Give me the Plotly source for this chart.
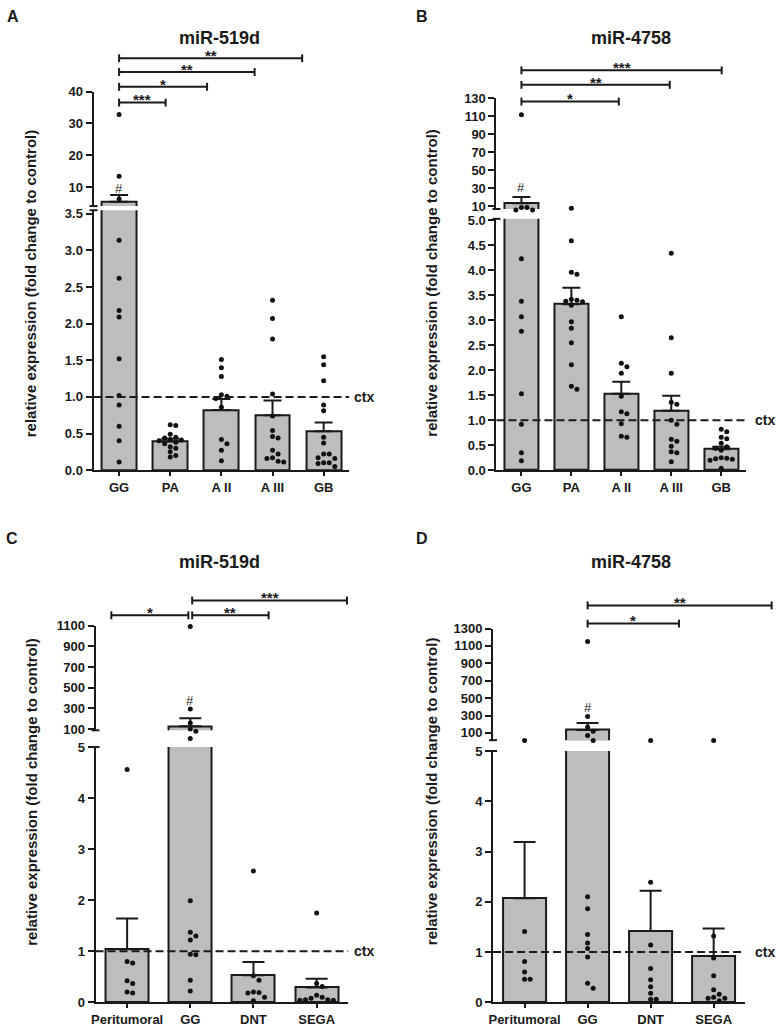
import plotly.graph_objects as go

W, H = 777, 1029

# ---------------- data ----------------
groups_ab = ["GG", "PA", "A II", "A III", "GB"]
groups_cd = ["Peritumoral", "GG", "DNT", "SEGA"]

# Panel A: miR-519d
a_mean = [5.3, 0.39, 0.82, 0.75, 0.53]
a_sem = [2.2, 0.04, 0.15, 0.20, 0.12]
a_pts_gg = [32.8, 13.4, 6.2, 3.14, 2.62, 2.18, 2.09, 1.52, 1.02, 0.89, 0.60, 0.40, 0.11]
a_pts_pa = [0.62, 0.61, 0.49, 0.45, 0.44, 0.42, 0.41, 0.40, 0.38, 0.36, 0.32, 0.30, 0.25, 0.20, 0.18]
a_pts_a2 = [1.51, 1.40, 1.28, 1.03, 1.01, 0.98, 0.86, 0.42, 0.36, 0.27, 0.13]
a_pts_a3 = [2.32, 2.07, 1.79, 1.04, 0.74, 0.54, 0.46, 0.44, 0.27, 0.22, 0.17, 0.16, 0.12, 0.11]
a_pts_gb = [1.55, 1.44, 1.22, 0.89, 0.81, 0.45, 0.37, 0.22, 0.22, 0.17, 0.16, 0.10, 0.10, 0.09, 0.05]
a_sig = ["***", "*", "**", "**"]
a_low_ticks = [0.0, 0.5, 1.0, 1.5, 2.0, 2.5, 3.0, 3.5]
a_up_ticks = [10, 20, 30, 40]

# Panel B: miR-4758
b_mean = [13.6, 3.32, 1.53, 1.19, 0.42]
b_sem = [6.9, 0.33, 0.24, 0.30, 0.05]
b_pts_gg = [111.5, 8.9, 8.9, 6.0, 6.0, 4.23, 3.38, 3.07, 2.78, 1.53, 0.92, 0.35, 0.19]
b_pts_pa = [7.8, 4.59, 3.96, 3.92, 3.42, 3.40, 3.38, 3.37, 3.30, 2.97, 2.84, 2.55, 2.11, 1.68, 1.62]
b_pts_a2 = [3.07, 2.14, 2.07, 1.94, 1.48, 1.17, 1.13, 0.93, 0.68, 0.66]
b_pts_a3 = [4.34, 2.65, 1.94, 1.36, 1.32, 1.00, 0.92, 0.62, 0.58, 0.48, 0.37, 0.35, 0.17]
b_pts_gb = [0.82, 0.77, 0.66, 0.63, 0.54, 0.47, 0.44, 0.40, 0.25, 0.24, 0.23, 0.22, 0.20, 0.04]
b_sig = ["*", "**", "***"]
b_low_ticks = [0.0, 0.5, 1.0, 1.5, 2.0, 2.5, 3.0, 3.5, 4.0, 4.5, 5.0]
b_up_ticks = [10, 30, 50, 70, 90, 110, 130]

# Panel C: miR-519d
c_mean = [1.04, 126, 0.53, 0.29]
c_sem = [0.60, 79, 0.26, 0.17]
c_pts_peri = [4.56, 0.80, 0.77, 0.42, 0.37, 0.20, 0.18]
c_pts_gg = [1090, 294, 157, 100, 78, 8, 1.99, 1.37, 1.30, 1.22, 0.94, 0.93, 0.43, 0.22]
c_pts_dnt = [2.57, 0.52, 0.43, 0.20, 0.19, 0.18, 0.10, 0.03]
c_pts_sega = [1.75, 0.37, 0.31, 0.14, 0.10, 0.08, 0.05, 0.05, 0.04, 0.04]
c_sig = ["*", "**", "***"]
c_low_ticks = [0, 1, 2, 3, 4, 5]
c_up_ticks = [100, 300, 500, 700, 900, 1100]

# Panel D: miR-4758
d_mean = [2.07, 135, 1.42, 0.92]
d_sem = [1.12, 78, 0.80, 0.55]
d_pts_peri = [14, 1.41, 0.81, 0.60, 0.46, 0.46]
d_pts_gg = [1150, 289, 168, 119, 71, 14, 2.10, 1.86, 1.35, 1.18, 1.07, 0.90, 0.38, 0.28]
d_pts_dnt = [14, 2.39, 1.14, 0.67, 0.45, 0.31, 0.18, 0.06, 0.06]
d_pts_sega = [14, 1.32, 0.88, 0.53, 0.25, 0.16, 0.08, 0.08, 0.10, 0.03]
d_sig = ["*", "**"]
d_low_ticks = [0, 1, 2, 3, 4, 5]
d_up_ticks = [100, 300, 500, 700, 900, 1100, 1300]

YTITLE = "relative expression (fold change to control)"

# ---------------- layout (pixel geometry) ----------------
FONT = "Liberation Sans, Arial, sans-serif"
INK = "#1a1a1a"
BAR_FILL = "#bdbdbd"

panels = [
    dict(letter="A", title="miR-519d", cats=groups_ab, mean=a_mean, sem=a_sem,
         pts=[a_pts_gg, a_pts_pa, a_pts_a2, a_pts_a3, a_pts_gb], sig=a_sig, gg=0,
         xpx=(90, 347), xr=(-0.5, 4.5),
         low_px=(470, 206.2), low_r=(0, 3.55), low_ticks=a_low_ticks, low_fmt="{:.1f}",
         up_px=(202, 86), up_r=(3.98, 40), up_ticks=a_up_ticks,
         brk=[(0, 0.91, 97), (0, 1.72, 81), (0, 2.65, 66), (0, 3.58, 52)],
         cap=9, hash_y=184, title_xy=(216.7, 31.5), letter_xy=(8.8, 10),
         ytitle_xy=(27.5, 280), ctx_x=350),
    dict(letter="B", title="miR-4758", cats=groups_ab, mean=b_mean, sem=b_sem,
         pts=[b_pts_gg, b_pts_pa, b_pts_a2, b_pts_a3, b_pts_gb], sig=b_sig, gg=0,
         xpx=(495, 746), xr=(-0.5, 4.5),
         low_px=(470, 215), low_r=(0, 5.03), low_ticks=b_low_ticks, low_fmt="{:.1f}",
         up_px=(205, 92.3), up_r=(7.1, 130), up_ticks=b_up_ticks,
         brk=[(0, 1.95, 96), (0, 2.97, 79), (0, 4.01, 64.3)],
         cap=9, hash_y=183.3, title_xy=(630, 31.5), letter_xy=(420, 9.5),
         ytitle_xy=(430, 280), ctx_x=753),
    dict(letter="C", title="miR-519d", cats=groups_cd, mean=c_mean, sem=c_sem,
         pts=[c_pts_peri, c_pts_gg, c_pts_dnt, c_pts_sega], sig=c_sig, gg=1,
         xpx=(92, 346), xr=(-0.5, 3.5),
         low_px=(1010, 751), low_r=(0, 5.0), low_ticks=c_low_ticks, low_fmt="{:d}",
         up_px=(734, 627.7), up_r=(87.6, 1100), up_ticks=c_up_ticks,
         brk=[(-0.25, 0.97, 617.3), (1.03, 2.24, 617.3), (1.03, 3.48, 602.3)],
         cap=11, hash_y=704, title_xy=(216.7, 563.3), letter_xy=(8.5, 539.7),
         ytitle_xy=(27.5, 796), ctx_x=350),
    dict(letter="D", title="miR-4758", cats=groups_cd, mean=d_mean, sem=d_sem,
         pts=[d_pts_peri, d_pts_gg, d_pts_dnt, d_pts_sega], sig=d_sig, gg=1,
         xpx=(491.6, 745), xr=(-0.5, 3.5),
         low_px=(1010, 755), low_r=(0, 5.0), low_ticks=d_low_ticks, low_fmt="{:d}",
         up_px=(744, 630.7), up_r=(17, 1300), up_ticks=d_up_ticks,
         brk=[(1.0, 2.45, 625.7), (1.0, 3.92, 607.3)],
         cap=11, hash_y=710.7, title_xy=(630, 563.3), letter_xy=(420.5, 539.7),
         ytitle_xy=(430, 796), ctx_x=753),
]


def fx(xpx):
    return xpx / W


def fy(ypx):
    return 1 - ypx / H


def val_to_px(v, p):
    lb, lt = p["low_px"]
    l0, l1 = p["low_r"]
    if v <= l1:
        return lb - (v - l0) / (l1 - l0) * (lb - lt)
    ub, ut = p["up_px"]
    u0, u1 = p["up_r"]
    return ub - (v - u0) / (u1 - u0) * (ub - ut)


def cat_to_px(c, p):
    x0, x1 = p["xpx"]
    r0, r1 = p["xr"]
    return x0 + (c - r0) / (r1 - r0) * (x1 - x0)


def swarm(vals, p, step=5.6, rmin=5.2):
    ys = [val_to_px(v, p) for v in vals]
    order = sorted(range(len(vals)), key=lambda i: ys[i])
    placed = []
    offs = [0.0] * len(vals)
    for i in order:
        dx = 0.0
        for k in [0, 1, -1, 2, -2, 3, -3, 4, -4, 5, -5]:
            dx = k * step
            if all((dx - qx) ** 2 + (ys[i] - qy) ** 2 >= rmin ** 2 for qx, qy in placed):
                break
        placed.append((dx, ys[i]))
        offs[i] = dx
    return offs


fig = go.Figure()
shapes = []
annotations = []
layout_axes = {}
tick_font = dict(family=FONT, size=13, color=INK, weight="bold")

for i, p in enumerate(panels):
    n = len(p["cats"])
    xid = "x" if i == 0 else f"x{i + 1}"
    ylo = "y" if i == 0 else f"y{2 * i + 1}"
    yup = f"y{2 * i + 2}"
    ydot = f"y{9 + i}"
    xkey = "xaxis" if i == 0 else f"xaxis{i + 1}"
    ylokey = "yaxis" if i == 0 else f"yaxis{2 * i + 1}"
    yupkey = f"yaxis{2 * i + 2}"
    ydotkey = f"yaxis{9 + i}"
    px_per_cat = (p["xpx"][1] - p["xpx"][0]) / (p["xr"][1] - p["xr"][0])

    # bars: lower segment gets every bar, upper segment only bars reaching it
    up_mean = [m if m > p["up_r"][0] else None for m in p["mean"]]
    up_sem = [s if m > p["up_r"][0] else 0 for m, s in zip(p["mean"], p["sem"])]
    for yid, ys, es in ((ylo, p["mean"], p["sem"]), (yup, up_mean, up_sem)):
        fig.add_trace(go.Bar(
            x=list(range(n)), y=ys, width=0.68,
            marker=dict(color=BAR_FILL, line=dict(color=INK, width=2)),
            error_y=dict(type="data", array=es, arrayminus=[0] * n, symmetric=False,
                         color=INK, thickness=2, width=p["cap"]),
            xaxis=xid, yaxis=yid, showlegend=False, hoverinfo="skip"))

    # individual points (upper ones on a hidden axis with the upper scale,
    # extended down through the break gap)
    lx, ly, ux, uy = [], [], [], []
    for ci, vals in enumerate(p["pts"]):
        offs = swarm(vals, p)
        for v, o in zip(vals, offs):
            xv = ci + o / px_per_cat
            if v <= p["low_r"][1]:
                lx.append(xv); ly.append(v)
            else:
                ux.append(xv); uy.append(v)
    for xs, ys, yid in ((lx, ly, ylo), (ux, uy, ydot)):
        fig.add_trace(go.Scatter(
            x=xs, y=ys, mode="markers", marker=dict(size=5, color="#111111"),
            cliponaxis=False, xaxis=xid, yaxis=yid, showlegend=False, hoverinfo="skip"))

    common_y = dict(showline=True, linecolor=INK, linewidth=2, ticks="outside", ticklen=6,
                    tickwidth=2, tickcolor=INK, tickfont=tick_font, showgrid=False,
                    zeroline=False, fixedrange=True, anchor=xid)
    layout_axes[xkey] = dict(
        domain=[fx(p["xpx"][0]), fx(p["xpx"][1])], range=list(p["xr"]), anchor=ylo,
        tickvals=list(range(n)), ticktext=p["cats"], showline=True, linecolor=INK,
        linewidth=2, ticks="outside", ticklen=4, tickwidth=2, tickcolor=INK,
        tickfont=tick_font, showgrid=False, zeroline=False, fixedrange=True)
    layout_axes[ylokey] = dict(
        domain=[fy(p["low_px"][0]), fy(p["low_px"][1])], range=list(p["low_r"]),
        tickvals=p["low_ticks"], ticktext=[p["low_fmt"].format(t) for t in p["low_ticks"]],
        **common_y)
    layout_axes[yupkey] = dict(
        domain=[fy(p["up_px"][0]), fy(p["up_px"][1])], range=list(p["up_r"]),
        tickvals=p["up_ticks"], ticktext=[str(t) for t in p["up_ticks"]], **common_y)
    ub, ut = p["up_px"]
    u0, u1 = p["up_r"]
    scale = (ub - ut) / (u1 - u0)
    gap_bottom = p["low_px"][1]
    layout_axes[ydotkey] = dict(
        domain=[fy(gap_bottom), fy(ut)], range=[u1 - (gap_bottom - ut) / scale, u1],
        visible=False, anchor=xid, fixedrange=True, showgrid=False, zeroline=False)

    # control reference line
    shapes.append(dict(type="line", xref=f"{xid} domain", x0=0, x1=1, yref=ylo, y0=1, y1=1,
                       line=dict(color=INK, width=2, dash="8px,4px"), layer="above"))
    annotations.append(dict(text="<b>ctx</b>", x=fx(p["ctx_x"]), y=fy(val_to_px(1, p)),
                            xref="paper", yref="paper", xanchor="left", yanchor="middle",
                            showarrow=False, font=dict(family=FONT, size=14, color=INK)))

    # axis-break caps
    ax_x = p["xpx"][0]
    for ypx in (p["up_px"][0], p["low_px"][1]):
        shapes.append(dict(type="line", xref="paper", yref="paper",
                           x0=fx(ax_x - 4), x1=fx(ax_x + 4), y0=fy(ypx), y1=fy(ypx),
                           line=dict(color=INK, width=2)))

    # significance brackets
    for (c0, c1, ypx), lab in zip(p["brk"], p["sig"]):
        xa, xb = cat_to_px(c0, p), cat_to_px(c1, p)
        shapes.append(dict(type="line", xref="paper", yref="paper", x0=fx(xa), x1=fx(xb),
                           y0=fy(ypx), y1=fy(ypx), line=dict(color=INK, width=2)))
        for xe in (xa, xb):
            shapes.append(dict(type="line", xref="paper", yref="paper", x0=fx(xe), x1=fx(xe),
                               y0=fy(ypx - 4), y1=fy(ypx + 4), line=dict(color=INK, width=2)))
        annotations.append(dict(text=f"<b>{lab}</b>", x=fx((xa + xb) / 2), y=fy(ypx + 8),
                                xref="paper", yref="paper", xanchor="center", yanchor="bottom",
                                showarrow=False, font=dict(family=FONT, size=15, color=INK)))

    # '#' marker above GG
    annotations.append(dict(text="#", x=fx(cat_to_px(p["gg"], p)), y=fy(p["hash_y"]),
                            xref="paper", yref="paper", xanchor="center", yanchor="middle",
                            showarrow=False, font=dict(family=FONT, size=13, color=INK)))
    # title, panel letter, y title
    annotations.append(dict(text=f"<b>{p['title']}</b>", x=fx(p["title_xy"][0]),
                            y=fy(p["title_xy"][1]), xref="paper", yref="paper",
                            xanchor="center", yanchor="middle", showarrow=False,
                            font=dict(family=FONT, size=18, color=INK)))
    annotations.append(dict(text=f"<b>{p['letter']}</b>", x=fx(p["letter_xy"][0]),
                            y=fy(p["letter_xy"][1]), xref="paper", yref="paper",
                            xanchor="center", yanchor="middle", showarrow=False,
                            font=dict(family=FONT, size=16, color=INK)))
    annotations.append(dict(text=f"<b>{YTITLE}</b>", x=fx(p["ytitle_xy"][0]),
                            y=fy(p["ytitle_xy"][1]), xref="paper", yref="paper",
                            xanchor="center", yanchor="middle", textangle=-90,
                            showarrow=False, font=dict(family=FONT, size=15, color=INK)))

fig.update_layout(
    width=W, height=H, margin=dict(l=0, r=0, t=0, b=0),
    paper_bgcolor="white", plot_bgcolor="rgba(0,0,0,0)",
    showlegend=False, barmode="overlay", bargap=0,
    shapes=shapes, annotations=annotations, **layout_axes)

fig.write_html("out.html", config={"displayModeBar": False},
               post_script="document.body.style.margin='0';document.body.style.overflow='hidden';")
